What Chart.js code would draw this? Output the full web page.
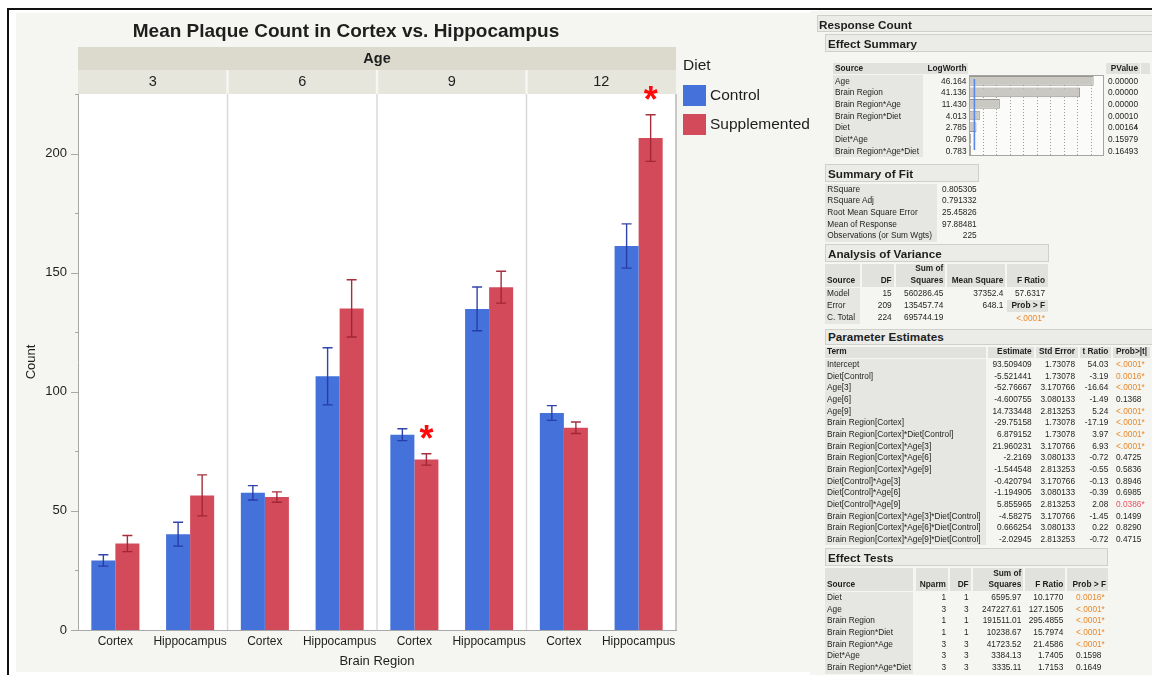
<!DOCTYPE html>
<html>
<head>
<meta charset="utf-8">
<script src="https://cdn.jsdelivr.net/npm/chart.js@4.4.1/dist/chart.umd.min.js"></script>
<style>
  html, body { margin: 0; padding: 0; background: #ffffff; }
  body { width: 1152px; height: 675px; position: relative; overflow: hidden;
         font-family: "Liberation Sans", Arial, Helvetica, sans-serif; color: #1e1e1e; }
  .abs { position: absolute; }
  .t { position: absolute; white-space: nowrap; }
  #frameTop { left: 7px; top: 8px; width: 1145px; height: 2px; background: #111; }
  #frameLeft { left: 7px; top: 8px; width: 2px; height: 667px; background: #111; }
  #graphBg { left: 16px; top: 13px; width: 794px; height: 659px; background: #f5f5f1; }
  #reportBg { left: 810px; top: 11px; width: 342px; height: 664px; background: #f5f5f1; }
  #plotWrap { left: 0; top: 0; width: 820px; height: 675px; }
  #lwWrap { left: 969px; top: 74px; width: 135px; height: 83px; }
</style>
</head>
<body>
<div id="frameTop" class="abs"></div>
<div id="frameLeft" class="abs"></div>
<div id="graphBg" class="abs"></div>
<div id="reportBg" class="abs"></div>
<div id="plotWrap" class="abs"><canvas id="plot" width="820" height="675"></canvas></div>
<div id="report"></div>
<div id="lwWrap" class="abs"><canvas id="logworth" width="135" height="83"></canvas></div>

<script>
// ---- Plaque counts: means and standard errors by brain region within age ----
const ages = ['3', '6', '9', '12'];
const regions = ['Cortex', 'Hippocampus', 'Cortex', 'Hippocampus', 'Cortex', 'Hippocampus', 'Cortex', 'Hippocampus'];
const dietGroups = ['Control', 'Supplemented'];
const controlMean = [29.2, 40.2, 57.6, 106.5, 82.0, 134.8, 91.1, 161.2];
const controlSE = [2.4, 5.0, 3.0, 12.0, 2.5, 9.2, 3.1, 9.3];
const supplementedMean = [36.3, 56.5, 55.8, 135.0, 71.6, 143.9, 84.9, 206.5];
const supplementedSE = [3.4, 8.6, 2.2, 12.0, 2.4, 6.7, 2.4, 9.8];
const flaggedSupplemented = [4, 7];
const yTickStep = 25;

// ---- Model report ----
const effectSources = ['Age', 'Brain Region', 'Brain Region*Age', 'Brain Region*Diet', 'Diet', 'Diet*Age', 'Brain Region*Age*Diet'];
const logWorth = [46.164, 41.136, 11.430, 4.013, 2.785, 0.796, 0.783];
const effectPValues = ['0.00000', '0.00000', '0.00000', '0.00010', '0.00164', '0.15979', '0.16493'];

const fitLabels = ['RSquare', 'RSquare Adj', 'Root Mean Square Error', 'Mean of Response', 'Observations (or Sum Wgts)'];
const fitValues = ['0.805305', '0.791332', '25.45826', '97.88481', '225'];

const anovaSources = ['Model', 'Error', 'C. Total'];
const anovaDF = ['15', '209', '224'];
const anovaSS = ['560286.45', '135457.74', '695744.19'];
const anovaMS = ['37352.4', '648.1', ''];
const anovaF = ['57.6317', '', ''];
const anovaProb = '<.0001*';

const paramTerms = ['Intercept', 'Diet[Control]', 'Age[3]', 'Age[6]', 'Age[9]', 'Brain Region[Cortex]',
  'Brain Region[Cortex]*Diet[Control]', 'Brain Region[Cortex]*Age[3]', 'Brain Region[Cortex]*Age[6]',
  'Brain Region[Cortex]*Age[9]', 'Diet[Control]*Age[3]', 'Diet[Control]*Age[6]', 'Diet[Control]*Age[9]',
  'Brain Region[Cortex]*Age[3]*Diet[Control]', 'Brain Region[Cortex]*Age[6]*Diet[Control]',
  'Brain Region[Cortex]*Age[9]*Diet[Control]'];
const paramEstimate = ['93.509409', '-5.521441', '-52.76667', '-4.600755', '14.733448', '-29.75158', '6.879152',
  '21.960231', '-2.2169', '-1.544548', '-0.420794', '-1.194905', '5.855965', '-4.58275', '0.666254', '-2.02945'];
const paramStdErr = ['1.73078', '1.73078', '3.170766', '3.080133', '2.813253', '1.73078', '1.73078', '3.170766',
  '3.080133', '2.813253', '3.170766', '3.080133', '2.813253', '3.170766', '3.080133', '2.813253'];
const paramT = ['54.03', '-3.19', '-16.64', '-1.49', '5.24', '-17.19', '3.97', '6.93', '-0.72', '-0.55', '-0.13',
  '-0.39', '2.08', '-1.45', '0.22', '-0.72'];
const paramProb = ['<.0001*', '0.0016*', '<.0001*', '0.1368', '<.0001*', '<.0001*', '<.0001*', '<.0001*', '0.4725',
  '0.5836', '0.8946', '0.6985', '0.0386*', '0.1499', '0.8290', '0.4715'];

const testSources = ['Diet', 'Age', 'Brain Region', 'Brain Region*Diet', 'Brain Region*Age', 'Diet*Age', 'Brain Region*Age*Diet'];
const testNparm = ['1', '3', '1', '1', '3', '3', '3'];
const testDF = ['1', '3', '1', '1', '3', '3', '3'];
const testSS = ['6595.97', '247227.61', '191511.01', '10238.67', '41723.52', '3384.13', '3335.11'];
const testF = ['10.1770', '127.1505', '295.4855', '15.7974', '21.4586', '1.7405', '1.7153'];
const testProb = ['0.0016*', '<.0001*', '<.0001*', '<.0001*', '<.0001*', '0.1598', '0.1649'];

// ---- styling ----
const FONT = '"Liberation Sans", Arial, Helvetica, sans-serif';
const controlColor = '#4471da';
const supplementedColor = '#d34a5b';
const errorColors = ['rgba(38,58,165,0.95)', 'rgba(160,36,52,0.95)'];
const errorSets = [controlSE, supplementedSE];

// Facet strips, panel dividers, title and legend around the bar plot
const facetPlugin = {
  id: 'facets',
  beforeDraw(chart) {
    const { ctx, chartArea: a, scales: { x } } = chart;
    ctx.save();
    ctx.fillStyle = '#ffffff';
    ctx.fillRect(a.left, a.top, a.right - a.left, a.bottom - a.top);
    // strips
    ctx.fillStyle = '#dbdacd';
    ctx.fillRect(a.left, a.top - 47, a.right - a.left, 23);
    ctx.fillStyle = '#e6e6dd';
    ctx.fillRect(a.left, a.top - 24, a.right - a.left, 24);
    const bounds = [a.left];
    for (let p = 1; p < ages.length; p++) {
      bounds.push((x.getPixelForValue(2 * p - 1) + x.getPixelForValue(2 * p)) / 2);
    }
    bounds.push(a.right);
    // dividers
    for (let p = 1; p < ages.length; p++) {
      const bx = bounds[p];
      ctx.strokeStyle = '#f6f6f2';
      ctx.lineWidth = 2.5;
      ctx.beginPath(); ctx.moveTo(bx, a.top - 24); ctx.lineTo(bx, a.top); ctx.stroke();
      ctx.strokeStyle = '#dadada';
      ctx.lineWidth = 1.5;
      ctx.beginPath(); ctx.moveTo(bx, a.top); ctx.lineTo(bx, a.bottom); ctx.stroke();
    }
    ctx.fillStyle = '#1e1e1e';
    ctx.textAlign = 'center';
    ctx.textBaseline = 'middle';
    ctx.font = 'bold 14.5px ' + FONT;
    ctx.fillText('Age', (a.left + a.right) / 2, a.top - 35);
    ctx.font = '14.5px ' + FONT;
    for (let p = 0; p < ages.length; p++) {
      ctx.fillText(ages[p], (bounds[p] + bounds[p + 1]) / 2, a.top - 12);
    }
    // title
    ctx.font = 'bold 19px ' + FONT;
    ctx.fillText('Mean Plaque Count in Cortex vs. Hippocampus', (16 + a.right) / 2, 32);
    ctx.restore();
  },
  afterDraw(chart) {
    const { ctx, chartArea: a, scales: { y } } = chart;
    ctx.save();
    // right frame of the plot
    ctx.strokeStyle = '#b9b9b9';
    ctx.lineWidth = 1.5;
    ctx.beginPath(); ctx.moveTo(a.right, a.top); ctx.lineTo(a.right, a.bottom); ctx.stroke();
    // y tick marks, long at labelled values
    ctx.strokeStyle = '#a8a8a8';
    ctx.lineWidth = 1;
    for (let v = y.min; v <= y.max; v += yTickStep) {
      const py = Math.round(y.getPixelForValue(v)) + 0.5;
      const len = v % 50 === 0 ? 7 : 3;
      ctx.beginPath(); ctx.moveTo(a.left - len, py); ctx.lineTo(a.left, py); ctx.stroke();
    }
    // legend
    const lx = a.right + 7;
    ctx.fillStyle = '#1e1e1e';
    ctx.textAlign = 'left';
    ctx.textBaseline = 'middle';
    ctx.font = '15.5px ' + FONT;
    ctx.fillText('Diet', lx, 66);
    chart.data.datasets.forEach((ds, i) => {
      const top = 85 + i * 29;
      ctx.fillStyle = ds.backgroundColor;
      ctx.fillRect(lx, top, 23, 21);
      ctx.fillStyle = '#1e1e1e';
      ctx.fillText(ds.label, lx + 27, top + 11);
    });
    ctx.restore();
  }
};

// Standard error bars and significance markers
const errorBarPlugin = {
  id: 'errorBars',
  afterDatasetsDraw(chart) {
    const { ctx, scales: { y } } = chart;
    ctx.save();
    chart.data.datasets.forEach((ds, di) => {
      const meta = chart.getDatasetMeta(di);
      meta.data.forEach((bar, i) => {
        const m = ds.data[i], e = errorSets[di][i];
        const yHi = y.getPixelForValue(m + e);
        const yLo = y.getPixelForValue(m - e);
        ctx.strokeStyle = errorColors[di];
        ctx.lineWidth = 1.4;
        ctx.beginPath();
        ctx.moveTo(bar.x, yHi); ctx.lineTo(bar.x, yLo);
        ctx.moveTo(bar.x - 5, yHi); ctx.lineTo(bar.x + 5, yHi);
        ctx.moveTo(bar.x - 5, yLo); ctx.lineTo(bar.x + 5, yLo);
        ctx.stroke();
      });
    });
    const meta = chart.getDatasetMeta(1);
    ctx.fillStyle = '#ff0a0a';
    ctx.textAlign = 'center';
    ctx.textBaseline = 'alphabetic';
    const size = 36;
    ctx.font = 'bold ' + size + 'px ' + FONT;
    flaggedSupplemented.forEach(i => {
      const bar = meta.data[i];
      const top = y.getPixelForValue(supplementedMean[i] + supplementedSE[i]);
      const cy = top - 23;
      ctx.fillText('*', bar.x, cy + size * 0.57);
    });
    ctx.restore();
  }
};

new Chart(document.getElementById('plot'), {
  type: 'bar',
  data: {
    labels: regions,
    datasets: [
      { label: dietGroups[0], data: controlMean, backgroundColor: controlColor },
      { label: dietGroups[1], data: supplementedMean, backgroundColor: supplementedColor }
    ]
  },
  options: {
    responsive: false,
    animation: false,
    devicePixelRatio: 1,
    layout: { padding: { left: 20, right: 144, top: 94, bottom: 0 } },
    datasets: { bar: { categoryPercentage: 0.643, barPercentage: 1.0 } },
    plugins: { legend: { display: false }, tooltip: { enabled: false }, title: { display: false } },
    scales: {
      x: {
        grid: { display: false, drawTicks: false },
        border: { display: true, color: '#a8a8a8', width: 1 },
        ticks: { color: '#1e1e1e', font: { family: FONT, size: 12 }, padding: 4, maxRotation: 0, autoSkip: false },
        title: { display: true, text: 'Brain Region', color: '#1e1e1e', font: { family: FONT, size: 13 }, padding: { top: 0, bottom: 6 } },
        afterFit(s) { s.height = 45; }
      },
      y: {
        min: 0, max: 225,
        grid: { display: false, drawTicks: false },
        border: { display: true, color: '#a8a8a8', width: 1 },
        ticks: { stepSize: yTickStep, color: '#1e1e1e', font: { family: FONT, size: 13 }, padding: 11,
                 callback: v => (v % 50 === 0 ? String(v) : '') },
        title: { display: true, text: 'Count', color: '#1e1e1e', font: { family: FONT, size: 13 }, padding: { top: 4, bottom: 4 } },
        afterFit(s) { s.width = 58; }
      }
    }
  },
  plugins: [facetPlugin, errorBarPlugin]
});

// ---- LogWorth bars in the effect summary ----
const logWorthFrame = {
  id: 'lwFrame',
  beforeDatasetsDraw(chart) {
    const { ctx, chartArea: a, scales: { x } } = chart;
    ctx.save();
    ctx.fillStyle = '#fbfbfa';
    ctx.fillRect(a.left, a.top, a.right - a.left, a.bottom - a.top);
    ctx.strokeStyle = '#9c9c9c';
    ctx.lineWidth = 1;
    ctx.setLineDash([1, 2]);
    for (let v = 5; v < 50; v += 5) {
      const px = Math.round(x.getPixelForValue(v)) + 0.5;
      ctx.beginPath(); ctx.moveTo(px, a.top + 1); ctx.lineTo(px, a.bottom - 1); ctx.stroke();
    }
    ctx.setLineDash([]);
    ctx.restore();
  },
  afterDatasetsDraw(chart) {
    const { ctx, chartArea: a, scales: { x } } = chart;
    ctx.save();
    ctx.strokeStyle = '#a5a5a5';
    ctx.lineWidth = 1;
    ctx.strokeRect(a.left + 0.5, a.top + 0.5, a.right - a.left - 1, a.bottom - a.top - 1);
    ctx.strokeStyle = '#5d88e6';
    ctx.lineWidth = 1.6;
    const px = x.getPixelForValue(2);
    ctx.beginPath(); ctx.moveTo(px, a.top + 4); ctx.lineTo(px, a.bottom - 6); ctx.stroke();
    ctx.restore();
  }
};

new Chart(document.getElementById('logworth'), {
  type: 'bar',
  data: {
    labels: effectSources,
    datasets: [{ data: logWorth, backgroundColor: '#c9c8c2', borderColor: '#98978f', borderWidth: 1,
                 borderSkipped: false, barPercentage: 0.84, categoryPercentage: 1.0 }]
  },
  options: {
    indexAxis: 'y',
    responsive: false,
    animation: false,
    devicePixelRatio: 1,
    layout: { padding: { left: 0, right: 0, top: 1, bottom: 1 } },
    plugins: { legend: { display: false }, tooltip: { enabled: false } },
    scales: { x: { display: false, min: 0, max: 50 }, y: { display: false } }
  },
  plugins: [logWorthFrame]
});

// ---- report text ----
const reportEl = document.getElementById('report');
const SMALL = 8.3;
function put(text, x, y, o = {}) {
  const d = document.createElement('div');
  d.className = 't';
  d.textContent = text;
  const size = o.size || SMALL;
  const lh = Math.round(size * 1.3);
  d.style.fontSize = size + 'px';
  d.style.lineHeight = lh + 'px';
  d.style.height = lh + 'px';
  d.style.top = (y - lh / 2) + 'px';
  if (o.bold) d.style.fontWeight = 'bold';
  if (o.color) d.style.color = o.color;
  if (o.align === 'right') {
    d.style.left = (x - 300) + 'px';
    d.style.width = '300px';
    d.style.textAlign = 'right';
  } else {
    d.style.left = x + 'px';
  }
  reportEl.appendChild(d);
}
function box(x0, y0, x1, y1, bg, border) {
  const d = document.createElement('div');
  d.className = 'abs';
  d.style.left = x0 + 'px';
  d.style.top = y0 + 'px';
  d.style.width = (x1 - x0) + 'px';
  d.style.height = (y1 - y0) + 'px';
  d.style.background = bg;
  d.style.boxSizing = 'border-box';
  if (border) d.style.border = '1px solid ' + border;
  reportEl.appendChild(d);
}
function probColor(s) {
  if (s.indexOf('*') < 0) return null;
  const v = s.startsWith('<') ? 0 : parseFloat(s);
  return v < 0.01 ? '#e88a2c' : '#ec5262';
}
const HEAD_BG = '#ebebe7', HEAD_BORDER = '#d0d0ca', CELL_BG = '#e6e6e3', HDR_CELL = '#e1e1de';

// Response / Effect Summary
box(817, 15, 1160, 32, HEAD_BG, HEAD_BORDER);
put('Response Count', 819, 24, { size: 11.7, bold: true });
box(825, 34, 1160, 52, HEAD_BG, HEAD_BORDER);
put('Effect Summary', 828, 43, { size: 11.7, bold: true });

box(833, 63, 968, 74, HDR_CELL);
box(1106, 63, 1140, 74, HDR_CELL);
box(1141, 63, 1150, 74, HDR_CELL);
box(833, 75, 923, 157, CELL_BG);
put('Source', 835, 68.7, { bold: true });
put('LogWorth', 966.5, 68.7, { bold: true, align: 'right' });
put('PValue', 1138, 68.7, { bold: true, align: 'right' });
effectSources.forEach((s, i) => {
  const y = 81.3 + i * 11.67;
  put(s, 835, y);
  put(logWorth[i].toFixed(3), 966.5, y, { align: 'right' });
  put(effectPValues[i], 1108, y);
});
put('^', 1134, 128 + 1.5);

// Summary of Fit
box(825, 164, 979, 182, HEAD_BG, HEAD_BORDER);
put('Summary of Fit', 828, 173, { size: 11.7, bold: true });
box(825, 183.5, 937, 241.5, CELL_BG);
fitLabels.forEach((s, i) => {
  const y = 189.3 + i * 11.67;
  put(s, 827.3, y);
  put(fitValues[i], 976.7, y, { align: 'right' });
});

// Analysis of Variance
box(825, 244, 1048.5, 262, HEAD_BG, HEAD_BORDER);
put('Analysis of Variance', 828, 253, { size: 11.7, bold: true });
[[825, 860], [862, 894], [896, 945], [947, 1005], [1007, 1048]].forEach(c => box(c[0], 263.5, c[1], 287, HDR_CELL));
box(825, 288, 860, 324, CELL_BG);
put('Sum of', 943.3, 268.7, { bold: true, align: 'right' });
put('Source', 827, 280.7, { bold: true });
put('DF', 891.7, 280.7, { bold: true, align: 'right' });
put('Squares', 943.3, 280.7, { bold: true, align: 'right' });
put('Mean Square', 1003.3, 280.7, { bold: true, align: 'right' });
put('F Ratio', 1045, 280.7, { bold: true, align: 'right' });
anovaSources.forEach((s, i) => {
  const y = 293.7 + i * 12.1;
  put(s, 827, y);
  put(anovaDF[i], 891.7, y, { align: 'right' });
  put(anovaSS[i], 943.3, y, { align: 'right' });
  if (anovaMS[i]) put(anovaMS[i], 1003.3, y, { align: 'right' });
  if (anovaF[i]) put(anovaF[i], 1045, y, { align: 'right' });
});
box(1007, 300, 1048, 311.5, HDR_CELL);
put('Prob > F', 1045, 305.8, { bold: true, align: 'right' });
put(anovaProb, 1045, 318, { align: 'right', color: probColor(anovaProb) });

// Parameter Estimates
box(825, 328.5, 1160, 345, HEAD_BG, HEAD_BORDER);
put('Parameter Estimates', 828, 336.7, { size: 11.7, bold: true });
[[825, 986], [988, 1034], [1036, 1078], [1080, 1111], [1113, 1150]].forEach(c => box(c[0], 346.5, c[1], 357.5, HDR_CELL));
box(825, 359, 986, 545, CELL_BG);
put('Term', 827, 351.7, { bold: true });
put('Estimate', 1031.7, 351.7, { bold: true, align: 'right' });
put('Std Error', 1075, 351.7, { bold: true, align: 'right' });
put('t Ratio', 1108.3, 351.7, { bold: true, align: 'right' });
put('Prob>|t|', 1116, 351.7, { bold: true });
paramTerms.forEach((s, i) => {
  const y = 364.7 + i * 11.64;
  put(s, 827, y);
  put(paramEstimate[i], 1031.7, y, { align: 'right' });
  put(paramStdErr[i], 1075, y, { align: 'right' });
  put(paramT[i], 1108.3, y, { align: 'right' });
  put(paramProb[i], 1116, y, { color: probColor(paramProb[i]) });
});

// Effect Tests
box(825, 548, 1108, 566, HEAD_BG, HEAD_BORDER);
put('Effect Tests', 828, 557, { size: 11.7, bold: true });
[[825, 913], [916, 948], [950, 971], [973, 1023], [1025, 1065], [1067, 1108]].forEach(c => box(c[0], 567.5, c[1], 590.5, HDR_CELL));
box(825, 592, 913, 674, CELL_BG);
put('Sum of', 1021.3, 573.3, { bold: true, align: 'right' });
put('Source', 827, 584.3, { bold: true });
put('Nparm', 946, 584.3, { bold: true, align: 'right' });
put('DF', 968.7, 584.3, { bold: true, align: 'right' });
put('Squares', 1021.3, 584.3, { bold: true, align: 'right' });
put('F Ratio', 1063.3, 584.3, { bold: true, align: 'right' });
put('Prob > F', 1106, 584.3, { bold: true, align: 'right' });
testSources.forEach((s, i) => {
  const y = 597.3 + i * 11.73;
  put(s, 827, y);
  put(testNparm[i], 946, y, { align: 'right' });
  put(testDF[i], 968.7, y, { align: 'right' });
  put(testSS[i], 1021.3, y, { align: 'right' });
  put(testF[i], 1063.3, y, { align: 'right' });
  put(testProb[i], 1076, y, { color: probColor(testProb[i]) });
});
</script>
</body>
</html>
